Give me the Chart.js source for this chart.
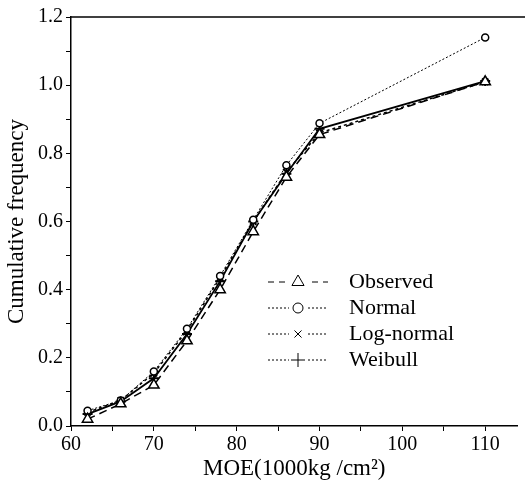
<!DOCTYPE html>
<html>
<head>
<meta charset="utf-8">
<script src="https://cdn.jsdelivr.net/npm/chart.js@4.4.0/dist/chart.umd.min.js"></script>
<style>
  html, body { margin: 0; padding: 0; background: #fff; }
  #wrap { width: 525px; height: 489px; }
</style>
</head>
<body>
<div id="wrap"><canvas id="chart" width="525" height="489"></canvas></div>
<script>
// MOE classes (1000kg/cm2)
const moe = [62, 66, 70, 74, 78, 82, 86, 90, 110];

// cumulative frequency
const observed  = [0.02, 0.065, 0.12, 0.25, 0.40, 0.57, 0.73, 0.855, 1.01];
const normal    = [0.045, 0.075, 0.16, 0.285, 0.44, 0.605, 0.765, 0.888, 1.14];
const logNormal = [0.04, 0.075, 0.155, 0.28, 0.435, 0.60, 0.745, 0.86, 1.01];
const weibull   = [0.035, 0.072, 0.14, 0.27, 0.425, 0.60, 0.74, 0.872, 1.012];

const seriesNames = ['Observed', 'Normal', 'Log-normal', 'Weibull'];
const xTicks = [60, 70, 80, 90, 100, 110];
const yTicks = [0.0, 0.2, 0.4, 0.6, 0.8, 1.0, 1.2];

const FONT = "'Liberation Serif', 'DejaVu Serif', serif";

function toPoints(vals) {
    return moe.map((x, i) => ({ x: x, y: vals[i] }));
}

// legend samples use the dash style shown in the printed legend
const legendDash = [[6, 5], [2, 2], [2, 2], [2, 2]];
const legendPoint = [
    { style: 'triangle', r: 7 },
    { style: 'circle', r: 5 },
    { style: 'crossRot', r: 5 },
    { style: 'cross', r: 7 }
];

const legendPlugin = {
    id: 'sampleLegend',
    afterDraw(chart) {
        const ctx = chart.ctx;
        const x0 = 268, x1 = 328, tx = 349;
        const rows = [282, 308, 334, 360];
        ctx.save();
        seriesNames.forEach((name, i) => {
            const y = rows[i];
            ctx.strokeStyle = '#000';
            ctx.lineWidth = 1;
            ctx.setLineDash(legendDash[i]);
            ctx.beginPath();
            ctx.moveTo(x0, y);
            ctx.lineTo(x1, y);
            ctx.stroke();
            ctx.setLineDash([]);
            const cx = (x0 + x1) / 2;
            ctx.fillStyle = '#fff';
            ctx.fillRect(cx - 9, y - 8, 18, 16);
            ctx.strokeStyle = '#000';
            Chart.helpers.drawPoint(ctx, {
                pointStyle: legendPoint[i].style,
                radius: legendPoint[i].r,
                rotation: 0,
                borderWidth: 1
            }, cx, y);
            ctx.fillStyle = '#000';
            ctx.font = '22px ' + FONT;
            ctx.textBaseline = 'middle';
            ctx.fillText(name, tx, y);
        });
        ctx.restore();
    }
};

const topBorder = {
    id: 'topBorder',
    afterDraw(chart) {
        const a = chart.chartArea;
        const ctx = chart.ctx;
        ctx.save();
        ctx.strokeStyle = '#000';
        ctx.lineWidth = 1.5;
        ctx.beginPath();
        ctx.moveTo(a.left, a.top);
        ctx.lineTo(chart.width, a.top);
        ctx.stroke();
        ctx.restore();
    }
};

const ctx = document.getElementById('chart').getContext('2d');

new Chart(ctx, {
    type: 'line',
    data: {
        datasets: [
            {
                label: seriesNames[0],
                data: toPoints(observed),
                borderColor: '#000',
                borderWidth: 1.5,
                borderDash: [8, 5],
                pointStyle: 'triangle',
                pointRadius: 6,
                pointBackgroundColor: '#fff',
                pointBorderColor: '#000',
                pointBorderWidth: 1.5
            },
            {
                label: seriesNames[1],
                data: toPoints(normal),
                borderColor: '#000',
                borderWidth: 1,
                borderDash: [2, 2],
                pointStyle: 'circle',
                pointRadius: 3.5,
                pointBackgroundColor: '#fff',
                pointBorderColor: '#000',
                pointBorderWidth: 1.5
            },
            {
                label: seriesNames[2],
                data: toPoints(logNormal),
                borderColor: '#000',
                borderWidth: 1.5,
                borderDash: [3, 3],
                pointStyle: 'crossRot',
                pointRadius: 4.5,
                pointBorderColor: '#000',
                pointBorderWidth: 2
            },
            {
                label: seriesNames[3],
                data: toPoints(weibull),
                borderColor: '#000',
                borderWidth: 1.8,
                pointStyle: 'cross',
                pointRadius: 5,
                pointBorderColor: '#000',
                pointBorderWidth: 2
            }
        ]
    },
    options: {
        responsive: false,
        animation: false,
        layout: { padding: { top: 17, right: 0, left: 0, bottom: 0 } },
        plugins: {
            legend: { display: false },
            tooltip: { enabled: false }
        },
        scales: {
            x: {
                type: 'linear',
                min: 60,
                max: 113.9,
                afterBuildTicks: (scale) => {
                    const t = [];
                    for (let v = 60; v <= 110; v += 5) t.push({ value: v });
                    scale.ticks = t;
                },
                afterFit: (scale) => { scale.height = 63; },
                ticks: {
                    color: '#000',
                    font: { family: FONT, size: 20 },
                    padding: 2,
                    maxRotation: 0,
                    autoSkip: false,
                    callback: (v) => xTicks.includes(v) ? String(v) : ''
                },
                grid: {
                    drawOnChartArea: false,
                    drawTicks: true,
                    tickLength: 5,
                    tickColor: '#000'
                },
                border: { color: '#000', width: 1.5 },
                title: {
                    display: true,
                    text: 'MOE(1000kg /cm²)',
                    color: '#000',
                    font: { family: FONT, size: 23 },
                    padding: { top: 2, bottom: 6 }
                }
            },
            y: {
                min: 0,
                max: 1.2,
                afterBuildTicks: (scale) => {
                    const t = [];
                    for (let i = 0; i <= 12; i++) t.push({ value: i / 10 });
                    scale.ticks = t;
                },
                afterFit: (scale) => { scale.width = 71; },
                ticks: {
                    color: '#000',
                    font: { family: FONT, size: 20 },
                    padding: 3,
                    autoSkip: false,
                    callback: (v) => {
                        const m = yTicks.find(t => Math.abs(t - v) < 1e-6);
                        return m !== undefined ? m.toFixed(1) : '';
                    }
                },
                grid: {
                    drawOnChartArea: false,
                    drawTicks: true,
                    tickLength: 5,
                    tickColor: '#000'
                },
                border: { color: '#000', width: 1.5 },
                title: {
                    display: true,
                    text: 'Cumulative frequency',
                    color: '#000',
                    font: { family: FONT, size: 23 },
                    padding: { top: 3, bottom: 4 }
                }
            }
        }
    },
    plugins: [legendPlugin, topBorder]
});
</script>
</body>
</html>
